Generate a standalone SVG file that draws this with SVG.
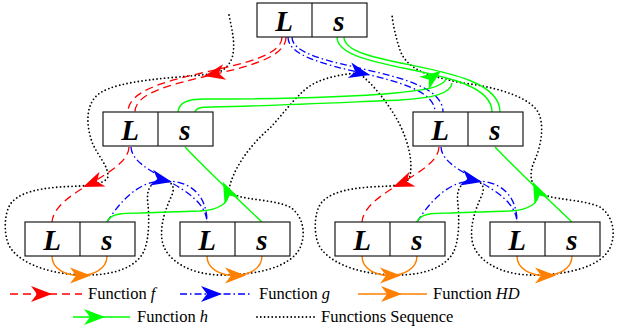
<svg xmlns="http://www.w3.org/2000/svg" width="620" height="333" viewBox="0 0 620 333">
<defs>
<path id="ah" d="M0,0 L-21,-8 L-15,0 L-21,8 Z"/>
</defs>
<style>
.box{fill:#fff;stroke:#1a1a1a;stroke-width:1.2}
.div{stroke:#1a1a1a;stroke-width:1.2}
.lbl{font-family:"Liberation Serif","Times New Roman",serif;font-weight:bold;font-style:italic;font-size:29px;text-anchor:middle;fill:#000}
.f{fill:none;stroke:#f00;stroke-width:1.3;stroke-dasharray:8 5}
.g{fill:none;stroke:#00f;stroke-width:1.3;stroke-dasharray:7 3 1.5 3}
.h{fill:none;stroke:#0f0;stroke-width:1.4}
.hd{fill:none;stroke:#ff8000;stroke-width:1.4}
.seq{fill:none;stroke:#000;stroke-width:1.8;stroke-dasharray:0 3.8;stroke-linecap:round}
.af{fill:#f00}.ag{fill:#00f}.agr{fill:#0f0}.ao{fill:#ff8000}
.leg{font-family:"Liberation Serif","Times New Roman",serif;font-size:16.5px;fill:#000}
</style>
<rect x="0" y="0" width="620" height="333" fill="#fff"/>

<g id="connectors">
  <!-- functions sequence -->
  <path class="seq" d="M229,15 C232,30 236,45 232,58 C228,68 222,72 212,74 C170,78 120,80 100,93 C85,103 86,125 92,142 C97,155 108,165 108,176 C108,182 95,185 80,186 C55,187 25,188 12,202 C3,212 3,240 12,250 C25,266 55,275 87,275 C115,275 135,267 143,253 C150,240 149,215 148,205 C147,195 146,185 160,180 C170,180 176,185 172,195 C165,210 160,225 162,240 C165,260 190,275 222,275 C255,275 290,268 300,248 C307,232 302,215 290,207 C275,200 250,200 238,196 C233,194 230,192 229,190 C232,170 250,145 270,128 C285,112 300,90 315,83 C330,76 345,74 358,73 C370,80 390,105 400,125 C408,142 413,160 410,176 C408,183 400,185 390,186 C365,187 335,188 322,202 C313,212 313,240 322,250 C335,266 365,275 397,275 C425,275 445,267 453,253 C460,240 459,215 458,205 C457,195 456,185 470,180 C480,180 486,185 482,195 C475,210 470,225 472,240 C475,260 500,275 532,275 C565,275 600,268 610,248 C617,232 612,215 600,207 C585,200 560,200 548,196 C543,194 540,192 539,190 C532,186 528,176 534,162 C541,147 545,125 538,112 C530,98 500,88 470,84 C455,82 440,78 430,75 C415,70 404,62 400,50 C396,38 393,25 392,15"/>

  <!-- top level -->
  <path class="f" d="M282,37 C282,74 128,69 128,112"/>
  <path class="f" d="M286,37 C286,78 135,73 135,112"/>
  <path class="g" d="M288,37 C288,75 435,70 435,112"/>
  <path class="g" d="M292,37 C292,71 443,66 443,112"/>
  <path class="h" d="M337,37 C337,74 492,64 492,112"/>
  <path class="h" d="M344,37 C344,70 500,60 500,112"/>
  <path class="h" d="M178,112 C179,103 186,99 205,99 C270,99 350,97 395,93 C425,90 442,88 447,78"/>
  <path class="h" d="M195,112 C196,108 200,107 212,107 C270,106 350,102 400,100 C432,98 451,94 452,83"/>
  <use href="#ah" class="af" transform="translate(204,76) rotate(169)"/>
  <use href="#ah" class="ag" transform="translate(370,75) rotate(13)"/>
  <use href="#ah" class="agr" transform="translate(441,71) rotate(-36)"/>

  <!-- left subtree -->
  <g id="sub-left">
    <path class="f" d="M129,147 C128,175 55,190 52,222"/>
    <path class="g" d="M131,147 C132,175 205,185 207,222"/>
    <path class="g" d="M107,222 C118,205 135,183 160,181 C190,179 207,195 207,222"/>
    <path class="h" d="M262,222 C245,206 205,168 185,147"/>
    <path class="h" d="M107,222 C110,214 120,213 140,213 L200,211 C218,210 228,205 229,193"/>
    <path class="hd" d="M52,256 C52,282 107,282 107,256"/>
    <path class="hd" d="M207,256 C207,282 262,282 262,256"/>
    <use href="#ah" class="af" transform="translate(83,187) rotate(158)"/>
    <use href="#ah" class="ag" transform="translate(172,182) rotate(12)"/>
    <use href="#ah" class="agr" transform="translate(223,182) rotate(-115)"/>
    <use href="#ah" class="ao" transform="translate(91,275.5)"/>
    <use href="#ah" class="ao" transform="translate(246,275.5)"/>
  </g>
  <!-- right subtree -->
  <g id="sub-right" transform="translate(310,0)">
    <path class="f" d="M129,147 C128,175 55,190 52,222"/>
    <path class="g" d="M131,147 C132,175 205,185 207,222"/>
    <path class="g" d="M107,222 C118,205 135,183 160,181 C190,179 207,195 207,222"/>
    <path class="h" d="M262,222 C245,206 205,168 185,147"/>
    <path class="h" d="M107,222 C110,214 120,213 140,213 L200,211 C218,210 228,205 229,193"/>
    <path class="hd" d="M52,256 C52,282 107,282 107,256"/>
    <path class="hd" d="M207,256 C207,282 262,282 262,256"/>
    <use href="#ah" class="af" transform="translate(83,187) rotate(158)"/>
    <use href="#ah" class="ag" transform="translate(172,182) rotate(12)"/>
    <use href="#ah" class="agr" transform="translate(223,182) rotate(-115)"/>
    <use href="#ah" class="ao" transform="translate(91,275.5)"/>
    <use href="#ah" class="ao" transform="translate(246,275.5)"/>
  </g>
</g>

<g id="n-top"><rect class="box" x="257" y="3" width="110" height="34"/><line class="div" x1="312" y1="3" x2="312" y2="37"/><text class="lbl" x="284" y="31">L</text><text class="lbl" x="339" y="31">s</text></g>
<g id="n-ml"><rect class="box" x="103" y="112" width="110" height="34"/><line class="div" x1="158" y1="112" x2="158" y2="146"/><text class="lbl" x="130" y="140">L</text><text class="lbl" x="185" y="140">s</text></g>
<g id="n-mr"><rect class="box" x="413" y="112" width="110" height="34"/><line class="div" x1="468" y1="112" x2="468" y2="146"/><text class="lbl" x="440" y="140">L</text><text class="lbl" x="495" y="140">s</text></g>
<g id="n-b1"><rect class="box" x="25" y="222" width="110" height="34"/><line class="div" x1="80" y1="222" x2="80" y2="256"/><text class="lbl" x="52" y="250">L</text><text class="lbl" x="107" y="250">s</text></g>
<g id="n-b2"><rect class="box" x="180" y="222" width="110" height="34"/><line class="div" x1="235" y1="222" x2="235" y2="256"/><text class="lbl" x="207" y="250">L</text><text class="lbl" x="262" y="250">s</text></g>
<g id="n-b3"><rect class="box" x="335" y="222" width="110" height="34"/><line class="div" x1="390" y1="222" x2="390" y2="256"/><text class="lbl" x="362" y="250">L</text><text class="lbl" x="417" y="250">s</text></g>
<g id="n-b4"><rect class="box" x="490" y="222" width="110" height="34"/><line class="div" x1="545" y1="222" x2="545" y2="256"/><text class="lbl" x="517" y="250">L</text><text class="lbl" x="572" y="250">s</text></g>

<g id="legend">
  <line class="f" x1="10" y1="294" x2="82" y2="294"/>
  <use href="#ah" class="af" transform="translate(52,294)"/>
  <text class="leg" x="88" y="299">Function <tspan font-style="italic">f</tspan></text>
  <line class="g" x1="180" y1="294" x2="252" y2="294"/>
  <use href="#ah" class="ag" transform="translate(222,294)"/>
  <text class="leg" x="259" y="299">Function <tspan font-style="italic">g</tspan></text>
  <line class="hd" x1="358" y1="294" x2="427" y2="294"/>
  <use href="#ah" class="ao" transform="translate(402,294)"/>
  <text class="leg" x="433" y="299">Function <tspan font-style="italic">HD</tspan></text>
  <line class="h" x1="73" y1="317" x2="130" y2="317"/>
  <use href="#ah" class="agr" transform="translate(105,317)"/>
  <text class="leg" x="137" y="322">Function <tspan font-style="italic">h</tspan></text>
  <line class="seq" x1="257" y1="317" x2="315" y2="317"/>
  <text class="leg" x="321" y="322">Functions Sequence</text>
</g>
</svg>
